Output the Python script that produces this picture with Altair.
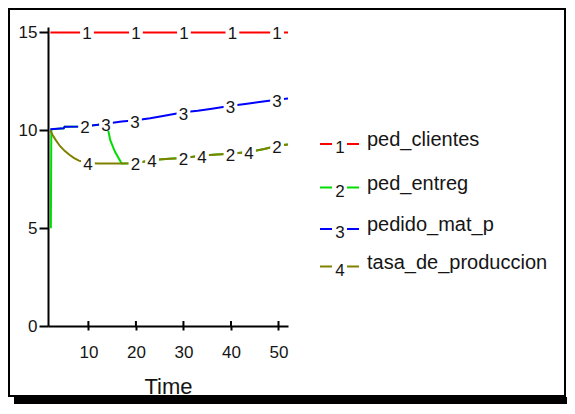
import altair as alt
import pandas as pd

# ---------------- data ----------------
series_names = ["ped_clientes", "ped_entreg", "pedido_mat_p", "tasa_de_produccion"]
series_ids = ["1", "2", "3", "4"]
series_colors = ["#ff0000", "#00dd00", "#0000ff", "#808000"]

# 1: ped_clientes
t1 = [2, 52]
v1 = [15.0, 15.0]
# 2: ped_entreg
t2 = [2.1, 2.2, 4.8, 5, 9, 12, 13.9, 14.6, 15.6, 17, 20, 23.4, 27, 30, 34, 37, 40, 44, 47, 50, 52]
v2 = [5.0, 10.05, 10.1, 10.18, 10.2, 10.28, 10.33, 9.5, 8.9, 8.3, 8.32, 8.48, 8.55, 8.58, 8.71, 8.76, 8.8, 8.9, 9.05, 9.22, 9.28]
# 3: pedido_mat_p
t3 = [2, 4.8, 5, 9, 12, 14, 17, 20, 23, 26, 30, 33, 36, 40, 43, 46, 50, 52]
v3 = [10.05, 10.1, 10.18, 10.2, 10.28, 10.35, 10.45, 10.52, 10.62, 10.75, 10.92, 11.0, 11.1, 11.25, 11.35, 11.45, 11.58, 11.62]
# 4: tasa_de_produccion
t4 = [2, 2.5, 3, 4, 5, 6, 7, 8, 9, 9.9, 12, 14, 17, 20, 23.4, 27, 30, 34, 37, 40, 44, 47, 50, 52]
v4 = [10.0, 9.75, 9.55, 9.2, 8.95, 8.75, 8.58, 8.45, 8.38, 8.33, 8.3, 8.3, 8.3, 8.32, 8.48, 8.55, 8.58, 8.71, 8.76, 8.8, 8.9, 9.05, 9.22, 9.28]

# inline number labels on the curves
lab_t1 = [9.7, 20, 30.1, 40.3, 49.7]
lab_v1 = [15, 15, 15, 15, 15]
lab_t2 = [9.3, 19.9, 30, 39.9, 49.7]
lab_v2 = [10.2, 8.32, 8.58, 8.8, 9.2]
lab_t3 = [13.7, 19.8, 30, 39.9, 49.7]
lab_v3 = [10.33, 10.5, 10.9, 11.22, 11.55]
lab_t4 = [9.9, 23.4, 33.9, 43.8]
lab_v4 = [8.33, 8.48, 8.71, 8.9]

x_ticks = [10, 20, 30, 40, 50]
y_ticks = [0, 5, 10, 15]
x_title = "Time"

# ---------------- layout / style ----------------
W, H = 240, 299
FONT = "Liberation Sans"
TXT = "#151515"

xs = alt.Scale(domain=[1.5, 52], nice=False, zero=False)
ys = alt.Scale(domain=[0, 15.28], nice=False, zero=False)
x_axis = alt.Axis(values=x_ticks, tickSize=4, tickWidth=2, tickColor="black",
                  domainColor="black", domainWidth=2, labelPadding=14,
                  labelFontSize=17, labelFont=FONT, labelColor=TXT,
                  labelFlush=False, labelOverlap=False, grid=False,
                  title=x_title, titleFont=FONT, titleFontSize=22,
                  titleFontWeight="normal", titleColor=TXT, titlePadding=16)
y_axis = alt.Axis(values=y_ticks, tickSize=9, tickWidth=2, tickColor="black",
                  domainColor="black", domainWidth=2, labelPadding=2,
                  labelFontSize=17, labelFont=FONT, labelColor=TXT,
                  labelFlush=False, labelOverlap=False, grid=False, title=None)

ts = [t1, t2, t3, t4]
vs = [v1, v2, v3, v4]
lts = [lab_t1, lab_t2, lab_t3, lab_t4]
lvs = [lab_v1, lab_v2, lab_v3, lab_v4]

layers = []

# frame and shadow
one = pd.DataFrame({"a": [0]})
layers.append(alt.Chart(one).mark_rect(fillOpacity=0, stroke="black", strokeWidth=2).encode(
    x=alt.value(-39), x2=alt.value(517), y=alt.value(-18), y2=alt.value(369)))
layers.append(alt.Chart(one).mark_rect(color="black").encode(
    x=alt.value(-34), x2=alt.value(519), y=alt.value(370), y2=alt.value(377)))

# x tick marks above the axis
layers.append(alt.Chart(pd.DataFrame({"t": x_ticks})).mark_rule(color="black", strokeWidth=2).encode(
    x=alt.X("t:Q", scale=xs, axis=x_axis), y=alt.value(H - 5), y2=alt.value(H)))

# lines (draw order: green, olive, blue, red)
for i in [1, 3, 2, 0]:
    df = pd.DataFrame({"t": ts[i], "v": vs[i], "k": list(range(len(ts[i])))})
    layers.append(alt.Chart(df).mark_line(color=series_colors[i], strokeWidth=2).encode(
        x=alt.X("t:Q", scale=xs, axis=x_axis),
        y=alt.Y("v:Q", scale=ys, axis=y_axis),
        order=alt.Order("k:Q")))

# label backgrounds and numbers
for i in [1, 3, 2, 0]:
    df = pd.DataFrame({"t": lts[i], "v": lvs[i], "n": [series_ids[i]] * len(lts[i])})
    layers.append(alt.Chart(df).mark_square(size=190, color="white", opacity=1, filled=True).encode(
        x=alt.X("t:Q", scale=xs, axis=x_axis), y=alt.Y("v:Q", scale=ys, axis=y_axis)))
    layers.append(alt.Chart(df).mark_text(font=FONT, fontSize=17, color=TXT, dy=2,
                                          align="center", baseline="middle").encode(
        x=alt.X("t:Q", scale=xs, axis=x_axis), y=alt.Y("v:Q", scale=ys, axis=y_axis),
        text="n:N"))

# legend (drawn beside the plot)
leg_base = [119, 162.5, 204, 241.5]
for i in range(4):
    b = leg_base[i]
    d = pd.DataFrame({"name": [series_names[i]], "n": [series_ids[i]]})
    layers.append(alt.Chart(d).mark_rule(color=series_colors[i], strokeWidth=2).encode(
        x=alt.value(272), x2=alt.value(284), y=alt.value(b - 2)))
    layers.append(alt.Chart(d).mark_rule(color=series_colors[i], strokeWidth=2).encode(
        x=alt.value(299), x2=alt.value(311), y=alt.value(b - 2)))
    layers.append(alt.Chart(d).mark_text(font=FONT, fontSize=17, color=TXT, align="center",
                                         baseline="alphabetic").encode(
        x=alt.value(292), y=alt.value(b + 7), text="n:N"))
    layers.append(alt.Chart(d).mark_text(font=FONT, fontSize=20, color=TXT, align="left",
                                         baseline="alphabetic").encode(
        x=alt.value(319), y=alt.value(b), text="name:N"))

chart = alt.layer(*layers).properties(
    width=W, height=H,
    autosize=alt.AutoSizeParams(type="none"),
    padding={"left": 40, "top": 19, "right": 279, "bottom": 78},
    background="white",
).configure_view(stroke=None)

chart.save("out.html", embed_options={"renderer": "svg", "actions": False})
